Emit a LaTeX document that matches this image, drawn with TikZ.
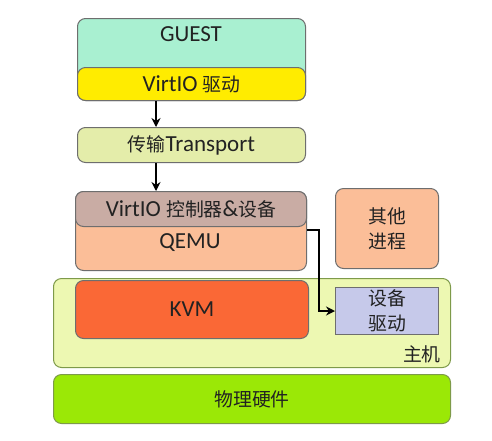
\documentclass[tikz,border=0pt]{standalone}
\usepackage{fontspec}
\setmainfont{Carlito}
\newfontfamily\cjk{Noto Sans CJK SC}[Scale=0.82]
\usetikzlibrary{arrows.meta,calc}
\definecolor{cguest}{HTML}{A9F0D1}
\definecolor{cdrv}{HTML}{FFEC00}
\definecolor{ctrans}{HTML}{E4EDAA}
\definecolor{cctrl}{HTML}{C9ACA4}
\definecolor{cqemu}{HTML}{FBBE98}
\definecolor{chost}{HTML}{EDF8B2}
\definecolor{ckvm}{HTML}{FA6836}
\definecolor{cdev}{HTML}{C6C9EA}
\definecolor{chw}{HTML}{9BE806}
\definecolor{cline}{HTML}{6E6E6E}
\definecolor{cgline}{HTML}{7E9A4A}
\definecolor{ctext}{HTML}{222222}
\tikzset{
  box/.style={draw=cline, line width=1pt, rounded corners=8pt, anchor=north west, inner sep=0pt, text=ctext},
  flow/.style={draw=black, line width=2.2pt, -{Stealth[length=9pt,width=9pt]}},
  lbl/.style={text=ctext, inner sep=0pt, align=center}
}
\begin{document}
\begin{tikzpicture}[x=1pt,y=-1pt,font=\fontsize{23}{25}\selectfont]
\useasboundingbox (0,0) rectangle (492,440);
\fill[white] (0,0) rectangle (492,440);
% guest
\node[box, fill=cguest, minimum width=228pt, minimum height=82pt] (guest) at (77,18) {};
\node[lbl] (guesttxt) at (191,34) {GUEST};
\node[box, fill=cdrv, minimum width=228pt, minimum height=33pt] (vdrv) at (77,67) {VirtIO {\cjk 驱动}};
\node[box, fill=ctrans, minimum width=228pt, minimum height=35pt] (trans) at (77,127) {{\cjk 传输}Transport};
% qemu
\node[box, fill=cqemu, minimum width=231pt, minimum height=79pt] (qemu) at (75,191) {};
\node[lbl] (qemutxt) at (190,243) {QEMU};
\node[box, fill=cctrl, minimum width=231pt, minimum height=35pt] (ctrl) at (75,191) {VirtIO {\cjk 控制器}\&{\cjk 设备}};
\node[box, fill=cqemu, minimum width=103pt, minimum height=80pt, align=center] (other) at (335,188) {\cjk 其他\\\cjk 进程};
% host
\node[box, draw=cgline, fill=chost, minimum width=397pt, minimum height=89pt] (host) at (53,278) {};
\node[lbl, anchor=south east] (hosttxt) at ($(host.south east)+(-10,-5)$) {\cjk 主机};
\node[box, fill=ckvm, minimum width=233pt, minimum height=58pt] (kvm) at (75,280) {KVM};
\node[box, rounded corners=0pt, fill=cdev, minimum width=103pt, minimum height=47pt, align=center] (dev) at (335,287) {\cjk 设备\\\cjk 驱动};
% hardware
\node[box, draw=cgline, fill=chw, minimum width=397pt, minimum height=49pt] (hw) at (53,374) {\cjk 物理硬件};
% connectors
\draw[flow] (vdrv.south -| 156,0) -- (trans.north -| 156,0);
\draw[flow] (trans.south -| 156,0) -- (ctrl.north -| 156,0);
\draw[flow, line width=2pt] ([yshift=-3pt]ctrl.south east) -- ++(12,0) |- (dev.west);
\end{tikzpicture}
\end{document}
